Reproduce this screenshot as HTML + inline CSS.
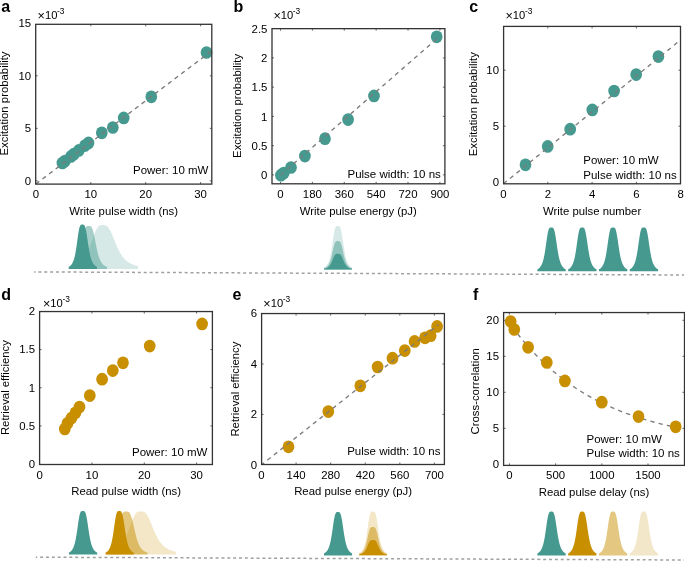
<!DOCTYPE html><html><head><meta charset="utf-8"><style>html,body{margin:0;padding:0;background:#fff;width:685px;height:561px;overflow:hidden}svg{display:block;will-change:transform}text{font-family:"Liberation Sans", sans-serif}</style></head><body>
<svg width="685" height="561" viewBox="0 0 685 561">
<path d="M90.80 184.1v-2.0M90.80 24.3v2.0M145.70 184.1v-2.0M145.70 24.3v2.0M200.60 184.1v-2.0M200.60 24.3v2.0M35.7 180.90h2.0M211.8 180.90h-2.0M35.7 128.35h2.0M211.8 128.35h-2.0M35.7 75.80h2.0M211.8 75.80h-2.0" stroke="#555" stroke-width="0.9" fill="none"/>
<text x="35.90" y="198.40" font-size="11.4" text-anchor="middle" font-weight="normal" fill="#000000">0</text>
<text x="90.80" y="198.40" font-size="11.4" text-anchor="middle" font-weight="normal" fill="#000000">10</text>
<text x="145.70" y="198.40" font-size="11.4" text-anchor="middle" font-weight="normal" fill="#000000">20</text>
<text x="200.60" y="198.40" font-size="11.4" text-anchor="middle" font-weight="normal" fill="#000000">30</text>
<text x="31.10" y="184.70" font-size="11.4" text-anchor="end" font-weight="normal" fill="#000000">0</text>
<text x="31.10" y="132.15" font-size="11.4" text-anchor="end" font-weight="normal" fill="#000000">5</text>
<text x="31.10" y="79.60" font-size="11.4" text-anchor="end" font-weight="normal" fill="#000000">10</text>
<text x="31.10" y="27.05" font-size="11.4" text-anchor="end" font-weight="normal" fill="#000000">15</text>
<text x="123.60" y="214.80" font-size="11.35" text-anchor="middle" font-weight="normal" fill="#000000">Write pulse width (ns)</text>
<text x="8.00" y="103.50" font-size="11.35" text-anchor="middle" font-weight="normal" fill="#000000" transform="rotate(-90 8.00 103.50)">Excitation probability</text>
<text x="1.30" y="11.90" font-size="16" text-anchor="start" font-weight="bold" fill="#000">a</text>
<text x="37.60" y="18.70" font-size="11.2" fill="#000000"><tspan font-size="12.6" dy="1.2">×</tspan><tspan dy="-1.2">10</tspan><tspan font-size="8.4" dy="-4.5" dx="-0.4">-3</tspan></text>
<text x="133.00" y="174.20" font-size="11.5" text-anchor="start" font-weight="normal" fill="#000000">Power: 10 mW</text>
<ellipse cx="62.40" cy="163.00" rx="5.85" ry="6.35" fill="#45998f"/>
<ellipse cx="65.00" cy="161.00" rx="5.85" ry="6.35" fill="#45998f"/>
<ellipse cx="71.00" cy="156.40" rx="5.85" ry="6.35" fill="#45998f"/>
<ellipse cx="73.80" cy="154.20" rx="5.85" ry="6.35" fill="#45998f"/>
<ellipse cx="78.80" cy="150.40" rx="5.85" ry="6.35" fill="#45998f"/>
<ellipse cx="85.00" cy="145.60" rx="5.85" ry="6.35" fill="#45998f"/>
<ellipse cx="88.50" cy="142.90" rx="5.85" ry="6.35" fill="#45998f"/>
<ellipse cx="101.80" cy="132.80" rx="5.85" ry="6.35" fill="#45998f"/>
<ellipse cx="112.80" cy="127.50" rx="5.85" ry="6.35" fill="#45998f"/>
<ellipse cx="123.70" cy="117.90" rx="5.85" ry="6.35" fill="#45998f"/>
<ellipse cx="151.30" cy="96.80" rx="5.85" ry="6.35" fill="#45998f"/>
<ellipse cx="206.50" cy="52.50" rx="5.85" ry="6.35" fill="#45998f"/>
<path d="M35.80 184.00 L211.50 51.00" stroke="#7c7c7c" stroke-width="1.35" fill="none" stroke-dasharray="4.3 3.99" stroke-dashoffset="-0.07"/>
<rect x="35.7" y="24.3" width="176.10" height="159.80" fill="none" stroke="#333333" stroke-width="1.3"/>
<path d="M280.50 183.8v-2.0M280.50 28.65v2.0M312.38 183.8v-2.0M312.38 28.65v2.0M344.26 183.8v-2.0M344.26 28.65v2.0M376.14 183.8v-2.0M376.14 28.65v2.0M408.02 183.8v-2.0M408.02 28.65v2.0M439.90 183.8v-2.0M439.90 28.65v2.0M272.0 174.90h2.0M444.9 174.90h-2.0M272.0 145.65h2.0M444.9 145.65h-2.0M272.0 116.40h2.0M444.9 116.40h-2.0M272.0 87.15h2.0M444.9 87.15h-2.0M272.0 57.90h2.0M444.9 57.90h-2.0" stroke="#555" stroke-width="0.9" fill="none"/>
<text x="280.50" y="197.90" font-size="11.4" text-anchor="middle" font-weight="normal" fill="#000000">0</text>
<text x="312.38" y="197.90" font-size="11.4" text-anchor="middle" font-weight="normal" fill="#000000">180</text>
<text x="344.26" y="197.90" font-size="11.4" text-anchor="middle" font-weight="normal" fill="#000000">360</text>
<text x="376.14" y="197.90" font-size="11.4" text-anchor="middle" font-weight="normal" fill="#000000">540</text>
<text x="408.02" y="197.90" font-size="11.4" text-anchor="middle" font-weight="normal" fill="#000000">720</text>
<text x="439.90" y="197.90" font-size="11.4" text-anchor="middle" font-weight="normal" fill="#000000">900</text>
<text x="267.40" y="179.10" font-size="11.4" text-anchor="end" font-weight="normal" fill="#000000">0</text>
<text x="267.40" y="149.85" font-size="11.4" text-anchor="end" font-weight="normal" fill="#000000">0.5</text>
<text x="267.40" y="120.60" font-size="11.4" text-anchor="end" font-weight="normal" fill="#000000">1</text>
<text x="267.40" y="91.35" font-size="11.4" text-anchor="end" font-weight="normal" fill="#000000">1.5</text>
<text x="267.40" y="62.10" font-size="11.4" text-anchor="end" font-weight="normal" fill="#000000">2</text>
<text x="267.40" y="32.85" font-size="11.4" text-anchor="end" font-weight="normal" fill="#000000">2.5</text>
<text x="358.30" y="215.00" font-size="11.35" text-anchor="middle" font-weight="normal" fill="#000000">Write pulse energy (pJ)</text>
<text x="240.70" y="105.90" font-size="11.35" text-anchor="middle" font-weight="normal" fill="#000000" transform="rotate(-90 240.70 105.90)">Excitation probability</text>
<text x="233.40" y="11.60" font-size="16" text-anchor="start" font-weight="bold" fill="#000">b</text>
<text x="273.40" y="18.50" font-size="11.2" fill="#000000"><tspan font-size="12.6" dy="1.2">×</tspan><tspan dy="-1.2">10</tspan><tspan font-size="8.4" dy="-4.5" dx="-0.4">-3</tspan></text>
<text x="347.50" y="178.00" font-size="11.5" text-anchor="start" font-weight="normal" fill="#000000">Pulse width: 10 ns</text>
<ellipse cx="280.90" cy="175.20" rx="5.85" ry="6.35" fill="#45998f"/>
<ellipse cx="283.80" cy="173.00" rx="5.85" ry="6.35" fill="#45998f"/>
<ellipse cx="291.00" cy="167.50" rx="5.85" ry="6.35" fill="#45998f"/>
<ellipse cx="304.90" cy="156.10" rx="5.85" ry="6.35" fill="#45998f"/>
<ellipse cx="325.00" cy="138.70" rx="5.85" ry="6.35" fill="#45998f"/>
<ellipse cx="348.10" cy="119.60" rx="5.85" ry="6.35" fill="#45998f"/>
<ellipse cx="374.00" cy="95.90" rx="5.85" ry="6.35" fill="#45998f"/>
<ellipse cx="436.70" cy="36.80" rx="5.85" ry="6.35" fill="#45998f"/>
<path d="M280.50 175.10 L436.70 38.90" stroke="#7c7c7c" stroke-width="1.35" fill="none" stroke-dasharray="4.3 4.13" stroke-dashoffset="-0.31"/>
<rect x="272.0" y="28.65" width="172.90" height="155.15" fill="none" stroke="#333333" stroke-width="1.3"/>
<path d="M547.80 183.8v-2.0M547.80 26.4v2.0M592.10 183.8v-2.0M592.10 26.4v2.0M636.40 183.8v-2.0M636.40 26.4v2.0M503.6 126.20h2.0M680.5 126.20h-2.0M503.6 70.20h2.0M680.5 70.20h-2.0" stroke="#555" stroke-width="0.9" fill="none"/>
<text x="503.50" y="198.00" font-size="11.4" text-anchor="middle" font-weight="normal" fill="#000000">0</text>
<text x="547.80" y="198.00" font-size="11.4" text-anchor="middle" font-weight="normal" fill="#000000">2</text>
<text x="592.10" y="198.00" font-size="11.4" text-anchor="middle" font-weight="normal" fill="#000000">4</text>
<text x="636.40" y="198.00" font-size="11.4" text-anchor="middle" font-weight="normal" fill="#000000">6</text>
<text x="680.70" y="198.00" font-size="11.4" text-anchor="middle" font-weight="normal" fill="#000000">8</text>
<text x="499.00" y="186.00" font-size="11.4" text-anchor="end" font-weight="normal" fill="#000000">0</text>
<text x="499.00" y="130.00" font-size="11.4" text-anchor="end" font-weight="normal" fill="#000000">5</text>
<text x="499.00" y="74.00" font-size="11.4" text-anchor="end" font-weight="normal" fill="#000000">10</text>
<text x="592.10" y="215.00" font-size="11.35" text-anchor="middle" font-weight="normal" fill="#000000">Write pulse number</text>
<text x="477.30" y="104.20" font-size="11.35" text-anchor="middle" font-weight="normal" fill="#000000" transform="rotate(-90 477.30 104.20)">Excitation probability</text>
<text x="469.20" y="11.90" font-size="16" text-anchor="start" font-weight="bold" fill="#000">c</text>
<text x="505.50" y="18.70" font-size="11.2" fill="#000000"><tspan font-size="12.6" dy="1.2">×</tspan><tspan dy="-1.2">10</tspan><tspan font-size="8.4" dy="-4.5" dx="-0.4">-3</tspan></text>
<text x="583.30" y="164.30" font-size="11.5" text-anchor="start" font-weight="normal" fill="#000000">Power: 10 mW</text>
<text x="583.30" y="178.70" font-size="11.5" text-anchor="start" font-weight="normal" fill="#000000">Pulse width: 10 ns</text>
<ellipse cx="525.50" cy="164.80" rx="5.85" ry="6.35" fill="#45998f"/>
<ellipse cx="547.70" cy="146.40" rx="5.85" ry="6.35" fill="#45998f"/>
<ellipse cx="570.20" cy="129.20" rx="5.85" ry="6.35" fill="#45998f"/>
<ellipse cx="592.30" cy="109.90" rx="5.85" ry="6.35" fill="#45998f"/>
<ellipse cx="614.10" cy="91.00" rx="5.85" ry="6.35" fill="#45998f"/>
<ellipse cx="636.20" cy="74.60" rx="5.85" ry="6.35" fill="#45998f"/>
<ellipse cx="658.40" cy="56.60" rx="5.85" ry="6.35" fill="#45998f"/>
<path d="M503.50 183.70 L680.30 40.20" stroke="#7c7c7c" stroke-width="1.35" fill="none" stroke-dasharray="4.3 4.15" stroke-dashoffset="0.10"/>
<rect x="503.6" y="26.4" width="176.90" height="157.40" fill="none" stroke="#333333" stroke-width="1.3"/>
<path d="M91.93 464.5v-2.0M91.93 311.55v2.0M144.27 464.5v-2.0M144.27 311.55v2.0M196.60 464.5v-2.0M196.60 311.55v2.0M39.6 425.93h2.0M212.4 425.93h-2.0M39.6 387.75h2.0M212.4 387.75h-2.0M39.6 349.57h2.0M212.4 349.57h-2.0" stroke="#555" stroke-width="0.9" fill="none"/>
<text x="39.60" y="478.60" font-size="11.4" text-anchor="middle" font-weight="normal" fill="#000000">0</text>
<text x="91.93" y="478.60" font-size="11.4" text-anchor="middle" font-weight="normal" fill="#000000">10</text>
<text x="144.27" y="478.60" font-size="11.4" text-anchor="middle" font-weight="normal" fill="#000000">20</text>
<text x="196.60" y="478.60" font-size="11.4" text-anchor="middle" font-weight="normal" fill="#000000">30</text>
<text x="35.00" y="467.90" font-size="11.4" text-anchor="end" font-weight="normal" fill="#000000">0</text>
<text x="35.00" y="429.73" font-size="11.4" text-anchor="end" font-weight="normal" fill="#000000">0.5</text>
<text x="35.00" y="391.55" font-size="11.4" text-anchor="end" font-weight="normal" fill="#000000">1</text>
<text x="35.00" y="353.38" font-size="11.4" text-anchor="end" font-weight="normal" fill="#000000">1.5</text>
<text x="35.00" y="315.20" font-size="11.4" text-anchor="end" font-weight="normal" fill="#000000">2</text>
<text x="126.10" y="495.00" font-size="11.35" text-anchor="middle" font-weight="normal" fill="#000000">Read pulse width (ns)</text>
<text x="9.00" y="387.60" font-size="11.35" text-anchor="middle" font-weight="normal" fill="#000000" transform="rotate(-90 9.00 387.60)">Retrieval efficiency</text>
<text x="1.30" y="300.10" font-size="16" text-anchor="start" font-weight="bold" fill="#000">d</text>
<text x="43.00" y="306.70" font-size="11.2" fill="#000000"><tspan font-size="12.6" dy="1.2">×</tspan><tspan dy="-1.2">10</tspan><tspan font-size="8.4" dy="-4.5" dx="-0.4">-3</tspan></text>
<text x="132.00" y="455.80" font-size="11.5" text-anchor="start" font-weight="normal" fill="#000000">Power: 10 mW</text>
<ellipse cx="64.80" cy="429.00" rx="5.85" ry="6.35" fill="#c88f00"/>
<ellipse cx="67.50" cy="423.30" rx="5.85" ry="6.35" fill="#c88f00"/>
<ellipse cx="71.50" cy="418.10" rx="5.85" ry="6.35" fill="#c88f00"/>
<ellipse cx="75.50" cy="412.80" rx="5.85" ry="6.35" fill="#c88f00"/>
<ellipse cx="79.50" cy="407.00" rx="5.85" ry="6.35" fill="#c88f00"/>
<ellipse cx="89.80" cy="395.60" rx="5.85" ry="6.35" fill="#c88f00"/>
<ellipse cx="102.10" cy="379.20" rx="5.85" ry="6.35" fill="#c88f00"/>
<ellipse cx="112.80" cy="370.60" rx="5.85" ry="6.35" fill="#c88f00"/>
<ellipse cx="123.00" cy="362.80" rx="5.85" ry="6.35" fill="#c88f00"/>
<ellipse cx="149.70" cy="346.10" rx="5.85" ry="6.35" fill="#c88f00"/>
<ellipse cx="202.10" cy="323.90" rx="5.85" ry="6.35" fill="#c88f00"/>
<rect x="39.6" y="311.55" width="172.80" height="152.95" fill="none" stroke="#333333" stroke-width="1.3"/>
<path d="M296.08 464.5v-2.0M296.08 313.55v2.0M330.66 464.5v-2.0M330.66 313.55v2.0M365.24 464.5v-2.0M365.24 313.55v2.0M399.82 464.5v-2.0M399.82 313.55v2.0M434.40 464.5v-2.0M434.40 313.55v2.0M261.6 414.40h2.0M444.4 414.40h-2.0M261.6 364.00h2.0M444.4 364.00h-2.0" stroke="#555" stroke-width="0.9" fill="none"/>
<text x="261.50" y="478.60" font-size="11.4" text-anchor="middle" font-weight="normal" fill="#000000">0</text>
<text x="296.08" y="478.60" font-size="11.4" text-anchor="middle" font-weight="normal" fill="#000000">140</text>
<text x="330.66" y="478.60" font-size="11.4" text-anchor="middle" font-weight="normal" fill="#000000">280</text>
<text x="365.24" y="478.60" font-size="11.4" text-anchor="middle" font-weight="normal" fill="#000000">420</text>
<text x="399.82" y="478.60" font-size="11.4" text-anchor="middle" font-weight="normal" fill="#000000">560</text>
<text x="434.40" y="478.60" font-size="11.4" text-anchor="middle" font-weight="normal" fill="#000000">700</text>
<text x="257.00" y="468.60" font-size="11.4" text-anchor="end" font-weight="normal" fill="#000000">0</text>
<text x="257.00" y="418.20" font-size="11.4" text-anchor="end" font-weight="normal" fill="#000000">2</text>
<text x="257.00" y="367.80" font-size="11.4" text-anchor="end" font-weight="normal" fill="#000000">4</text>
<text x="257.00" y="317.40" font-size="11.4" text-anchor="end" font-weight="normal" fill="#000000">6</text>
<text x="353.10" y="494.70" font-size="11.35" text-anchor="middle" font-weight="normal" fill="#000000">Read pulse energy (pJ)</text>
<text x="238.80" y="389.10" font-size="11.35" text-anchor="middle" font-weight="normal" fill="#000000" transform="rotate(-90 238.80 389.10)">Retrieval efficiency</text>
<text x="232.60" y="300.10" font-size="16" text-anchor="start" font-weight="bold" fill="#000">e</text>
<text x="263.30" y="306.70" font-size="11.2" fill="#000000"><tspan font-size="12.6" dy="1.2">×</tspan><tspan dy="-1.2">10</tspan><tspan font-size="8.4" dy="-4.5" dx="-0.4">-3</tspan></text>
<text x="347.20" y="455.30" font-size="11.5" text-anchor="start" font-weight="normal" fill="#000000">Pulse width: 10 ns</text>
<ellipse cx="288.50" cy="446.80" rx="5.85" ry="6.35" fill="#c88f00"/>
<ellipse cx="328.30" cy="411.60" rx="5.85" ry="6.35" fill="#c88f00"/>
<ellipse cx="360.30" cy="385.80" rx="5.85" ry="6.35" fill="#c88f00"/>
<ellipse cx="377.60" cy="367.00" rx="5.85" ry="6.35" fill="#c88f00"/>
<ellipse cx="392.50" cy="358.20" rx="5.85" ry="6.35" fill="#c88f00"/>
<ellipse cx="404.80" cy="350.60" rx="5.85" ry="6.35" fill="#c88f00"/>
<ellipse cx="414.60" cy="341.40" rx="5.85" ry="6.35" fill="#c88f00"/>
<ellipse cx="425.00" cy="337.80" rx="5.85" ry="6.35" fill="#c88f00"/>
<ellipse cx="430.70" cy="335.70" rx="5.85" ry="6.35" fill="#c88f00"/>
<ellipse cx="437.10" cy="326.40" rx="5.85" ry="6.35" fill="#c88f00"/>
<path d="M261.80 464.60 L438.50 324.60" stroke="#7c7c7c" stroke-width="1.35" fill="none" stroke-dasharray="4.3 4.03" stroke-dashoffset="1.32"/>
<rect x="261.6" y="313.55" width="182.80" height="150.95" fill="none" stroke="#333333" stroke-width="1.3"/>
<path d="M509.40 465.4v-2.0M509.40 312.55v2.0M555.60 465.4v-2.0M555.60 312.55v2.0M601.80 465.4v-2.0M601.80 312.55v2.0M648.00 465.4v-2.0M648.00 312.55v2.0M503.6 428.30h2.0M684.5 428.30h-2.0M503.6 392.30h2.0M684.5 392.30h-2.0M503.6 356.30h2.0M684.5 356.30h-2.0M503.6 320.30h2.0M684.5 320.30h-2.0" stroke="#555" stroke-width="0.9" fill="none"/>
<text x="509.40" y="479.20" font-size="11.4" text-anchor="middle" font-weight="normal" fill="#000000">0</text>
<text x="555.60" y="479.20" font-size="11.4" text-anchor="middle" font-weight="normal" fill="#000000">500</text>
<text x="601.80" y="479.20" font-size="11.4" text-anchor="middle" font-weight="normal" fill="#000000">1000</text>
<text x="648.00" y="479.20" font-size="11.4" text-anchor="middle" font-weight="normal" fill="#000000">1500</text>
<text x="499.00" y="468.10" font-size="11.4" text-anchor="end" font-weight="normal" fill="#000000">0</text>
<text x="499.00" y="432.10" font-size="11.4" text-anchor="end" font-weight="normal" fill="#000000">5</text>
<text x="499.00" y="396.10" font-size="11.4" text-anchor="end" font-weight="normal" fill="#000000">10</text>
<text x="499.00" y="360.10" font-size="11.4" text-anchor="end" font-weight="normal" fill="#000000">15</text>
<text x="499.00" y="324.10" font-size="11.4" text-anchor="end" font-weight="normal" fill="#000000">20</text>
<text x="594.00" y="495.50" font-size="11.35" text-anchor="middle" font-weight="normal" fill="#000000">Read pulse delay (ns)</text>
<text x="478.90" y="391.30" font-size="11.35" text-anchor="middle" font-weight="normal" fill="#000000" transform="rotate(-90 478.90 391.30)">Cross-correlation</text>
<text x="473.00" y="300.10" font-size="16" text-anchor="start" font-weight="bold" fill="#000">f</text>
<text x="586.50" y="443.00" font-size="11.5" text-anchor="start" font-weight="normal" fill="#000000">Power: 10 mW</text>
<text x="586.50" y="457.10" font-size="11.5" text-anchor="start" font-weight="normal" fill="#000000">Pulse width: 10 ns</text>
<path d="M509.40 322.86 L510.79 324.79 L512.17 326.68 L513.56 328.55 L514.94 330.39 L516.33 332.20 L517.72 333.99 L519.10 335.74 L520.49 337.47 L521.87 339.17 L523.26 340.84 L524.65 342.49 L526.03 344.11 L527.42 345.70 L528.80 347.27 L530.19 348.82 L531.58 350.34 L532.96 351.84 L534.35 353.31 L535.73 354.76 L537.12 356.19 L538.51 357.59 L539.89 358.98 L541.28 360.34 L542.66 361.68 L544.05 363.00 L545.44 364.29 L546.82 365.57 L548.21 366.83 L549.59 368.07 L550.98 369.29 L552.37 370.49 L553.75 371.67 L555.14 372.83 L556.52 373.97 L557.91 375.10 L559.30 376.21 L560.68 377.30 L562.07 378.37 L563.45 379.43 L564.84 380.47 L566.23 381.49 L567.61 382.50 L569.00 383.49 L570.38 384.47 L571.77 385.43 L573.16 386.37 L574.54 387.31 L575.93 388.22 L577.31 389.12 L578.70 390.01 L580.09 390.89 L581.47 391.75 L582.86 392.59 L584.24 393.43 L585.63 394.25 L587.02 395.05 L588.40 395.85 L589.79 396.63 L591.17 397.40 L592.56 398.16 L593.95 398.90 L595.33 399.64 L596.72 400.36 L598.10 401.07 L599.49 401.77 L600.88 402.46 L602.26 403.14 L603.65 403.81 L605.03 404.46 L606.42 405.11 L607.81 405.75 L609.19 406.37 L610.58 406.99 L611.96 407.60 L613.35 408.19 L614.74 408.78 L616.12 409.36 L617.51 409.93 L618.89 410.49 L620.28 411.04 L621.67 411.59 L623.05 412.12 L624.44 412.65 L625.82 413.17 L627.21 413.68 L628.60 414.18 L629.98 414.67 L631.37 415.16 L632.75 415.64 L634.14 416.11 L635.53 416.57 L636.91 417.03 L638.30 417.48 L639.68 417.92 L641.07 418.35 L642.46 418.78 L643.84 419.20 L645.23 419.62 L646.61 420.03 L648.00 420.43 L649.39 420.83 L650.77 421.22 L652.16 421.60 L653.54 421.98 L654.93 422.35 L656.32 422.71 L657.70 423.07 L659.09 423.43 L660.47 423.78 L661.86 424.12 L663.25 424.46 L664.63 424.79 L666.02 425.12 L667.40 425.44 L668.79 425.76 L670.18 426.07 L671.56 426.38 L672.95 426.68 L674.33 426.98 L675.72 427.27" stroke="#7c7c7c" stroke-width="1.35" fill="none" stroke-dasharray="4.3 4.20" stroke-dashoffset="-5.50"/>
<ellipse cx="510.70" cy="321.50" rx="5.85" ry="6.35" fill="#c88f00"/>
<ellipse cx="514.30" cy="329.50" rx="5.85" ry="6.35" fill="#c88f00"/>
<ellipse cx="528.10" cy="347.30" rx="5.85" ry="6.35" fill="#c88f00"/>
<ellipse cx="546.80" cy="362.40" rx="5.85" ry="6.35" fill="#c88f00"/>
<ellipse cx="564.90" cy="380.90" rx="5.85" ry="6.35" fill="#c88f00"/>
<ellipse cx="601.80" cy="402.20" rx="5.85" ry="6.35" fill="#c88f00"/>
<ellipse cx="638.50" cy="416.60" rx="5.85" ry="6.35" fill="#c88f00"/>
<ellipse cx="675.70" cy="426.80" rx="5.85" ry="6.35" fill="#c88f00"/>
<rect x="503.6" y="312.55" width="180.90" height="152.85" fill="none" stroke="#333333" stroke-width="1.3"/>
<path d="M70.70 268.90 L70.70 266.08 L71.50 265.87 L72.30 265.64 L73.10 265.39 L73.90 265.12 L74.70 264.81 L75.50 264.48 L76.30 264.11 L77.10 263.70 L77.90 263.25 L78.70 262.75 L79.50 262.19 L80.30 261.57 L81.10 260.88 L81.90 260.11 L82.70 259.26 L83.50 258.30 L84.30 257.25 L85.10 256.07 L85.90 254.77 L86.70 253.33 L87.50 251.76 L88.30 250.04 L89.10 248.18 L89.90 246.19 L90.70 244.09 L91.50 241.90 L92.30 239.66 L93.10 237.43 L93.90 235.25 L94.70 233.19 L95.50 231.31 L96.30 229.66 L97.10 228.26 L97.90 227.14 L98.70 226.31 L99.50 225.73 L100.30 225.37 L101.10 225.18 L101.90 225.11 L102.70 225.10 L103.58 225.11 L104.47 225.18 L105.35 225.37 L106.23 225.73 L107.11 226.31 L108.00 227.14 L108.88 228.26 L109.76 229.66 L110.64 231.31 L111.53 233.19 L112.41 235.25 L113.29 237.43 L114.17 239.66 L115.06 241.90 L115.94 244.09 L116.82 246.19 L117.70 248.18 L118.59 250.04 L119.47 251.76 L120.35 253.33 L121.23 254.77 L122.12 256.07 L123.00 257.25 L123.88 258.30 L124.76 259.26 L125.65 260.11 L126.53 260.88 L127.41 261.57 L128.29 262.19 L129.18 262.75 L130.06 263.25 L130.94 263.70 L131.82 264.11 L132.70 264.48 L133.59 264.81 L134.47 265.12 L135.35 265.39 L136.24 265.64 L137.12 265.87 L138.00 266.08 L138.00 268.90 Z" fill="#45998f" fill-opacity="0.215"/>
<path d="M71.70 268.90 L71.70 266.94 L72.12 266.76 L72.54 266.56 L72.97 266.34 L73.39 266.09 L73.81 265.81 L74.23 265.50 L74.66 265.15 L75.08 264.75 L75.50 264.31 L75.92 263.80 L76.35 263.22 L76.77 262.57 L77.19 261.83 L77.61 260.99 L78.04 260.04 L78.46 258.96 L78.88 257.75 L79.30 256.38 L79.73 254.84 L80.15 253.13 L80.57 251.25 L80.99 249.20 L81.42 247.00 L81.84 244.67 L82.26 242.27 L82.69 239.85 L83.11 237.47 L83.53 235.22 L83.95 233.15 L84.38 231.33 L84.80 229.80 L85.22 228.56 L85.64 227.62 L86.06 226.95 L86.49 226.50 L86.91 226.22 L87.33 226.08 L87.75 226.02 L88.18 226.00 L88.60 226.00 L89.06 226.00 L89.52 226.02 L89.98 226.08 L90.44 226.22 L90.90 226.50 L91.36 226.95 L91.82 227.62 L92.28 228.56 L92.74 229.80 L93.20 231.33 L93.66 233.15 L94.12 235.22 L94.58 237.47 L95.04 239.85 L95.50 242.27 L95.96 244.67 L96.42 247.00 L96.88 249.20 L97.34 251.25 L97.80 253.13 L98.26 254.84 L98.72 256.38 L99.18 257.75 L99.64 258.96 L100.10 260.04 L100.56 260.99 L101.02 261.83 L101.48 262.57 L101.94 263.22 L102.40 263.80 L102.86 264.31 L103.32 264.75 L103.78 265.15 L104.24 265.50 L104.70 265.81 L105.16 266.09 L105.62 266.34 L106.08 266.56 L106.54 266.76 L107.00 266.94 L107.00 268.90 Z" fill="#45998f" fill-opacity="0.47"/>
<path d="M68.70 268.90 L68.70 266.87 L69.04 266.69 L69.38 266.49 L69.72 266.26 L70.06 266.00 L70.40 265.71 L70.74 265.39 L71.08 265.03 L71.42 264.62 L71.76 264.16 L72.10 263.63 L72.44 263.04 L72.78 262.37 L73.12 261.60 L73.46 260.74 L73.80 259.75 L74.14 258.64 L74.48 257.38 L74.82 255.97 L75.16 254.38 L75.50 252.62 L75.84 250.68 L76.18 248.56 L76.52 246.28 L76.86 243.88 L77.20 241.40 L77.54 238.90 L77.88 236.45 L78.22 234.12 L78.56 231.98 L78.90 230.11 L79.24 228.52 L79.58 227.25 L79.92 226.28 L80.26 225.58 L80.60 225.11 L80.94 224.83 L81.28 224.68 L81.62 224.62 L81.96 224.60 L82.30 224.60 L82.66 224.60 L83.03 224.62 L83.39 224.68 L83.76 224.83 L84.12 225.11 L84.49 225.58 L84.86 226.28 L85.22 227.25 L85.58 228.52 L85.95 230.11 L86.31 231.98 L86.68 234.12 L87.05 236.45 L87.41 238.90 L87.77 241.40 L88.14 243.88 L88.50 246.28 L88.87 248.56 L89.23 250.68 L89.60 252.62 L89.97 254.38 L90.33 255.97 L90.69 257.38 L91.06 258.64 L91.42 259.75 L91.79 260.74 L92.16 261.60 L92.52 262.37 L92.88 263.04 L93.25 263.63 L93.61 264.16 L93.98 264.62 L94.34 265.03 L94.71 265.39 L95.08 265.71 L95.44 266.00 L95.80 266.26 L96.17 266.49 L96.53 266.69 L96.90 266.87 L96.90 268.90 Z" fill="#45998f" fill-opacity="1.0"/>
<path d="M324.00 269.50 L324.00 267.51 L324.35 267.33 L324.69 267.13 L325.04 266.90 L325.38 266.65 L325.73 266.37 L326.07 266.05 L326.42 265.70 L326.76 265.30 L327.11 264.84 L327.45 264.33 L327.80 263.74 L328.14 263.08 L328.49 262.33 L328.83 261.48 L329.18 260.52 L329.52 259.43 L329.87 258.19 L330.21 256.80 L330.56 255.25 L330.90 253.51 L331.25 251.61 L331.59 249.53 L331.94 247.29 L332.28 244.93 L332.62 242.50 L332.97 240.04 L333.31 237.63 L333.66 235.35 L334.00 233.25 L334.35 231.41 L334.69 229.85 L335.04 228.60 L335.38 227.65 L335.73 226.96 L336.07 226.50 L336.42 226.23 L336.76 226.08 L337.11 226.02 L337.46 226.00 L337.80 226.00 L338.16 226.00 L338.51 226.02 L338.87 226.08 L339.22 226.23 L339.57 226.50 L339.93 226.96 L340.29 227.65 L340.64 228.60 L341.00 229.85 L341.35 231.41 L341.70 233.25 L342.06 235.35 L342.42 237.63 L342.77 240.04 L343.12 242.50 L343.48 244.93 L343.84 247.29 L344.19 249.53 L344.55 251.61 L344.90 253.51 L345.25 255.25 L345.61 256.80 L345.97 258.19 L346.32 259.43 L346.68 260.52 L347.03 261.48 L347.38 262.33 L347.74 263.08 L348.10 263.74 L348.45 264.33 L348.81 264.84 L349.16 265.30 L349.51 265.70 L349.87 266.05 L350.23 266.37 L350.58 266.65 L350.94 266.90 L351.29 267.13 L351.64 267.33 L352.00 267.51 L352.00 269.50 Z" fill="#45998f" fill-opacity="0.215"/>
<path d="M324.00 269.50 L324.00 268.20 L324.35 268.08 L324.69 267.95 L325.04 267.80 L325.38 267.64 L325.73 267.45 L326.07 267.24 L326.42 267.01 L326.76 266.75 L327.11 266.45 L327.45 266.11 L327.80 265.73 L328.14 265.30 L328.49 264.80 L328.83 264.25 L329.18 263.62 L329.52 262.90 L329.87 262.09 L330.21 261.18 L330.56 260.16 L330.90 259.03 L331.25 257.78 L331.59 256.41 L331.94 254.95 L332.28 253.41 L332.62 251.81 L332.97 250.20 L333.31 248.62 L333.66 247.12 L334.00 245.75 L334.35 244.54 L334.69 243.52 L335.04 242.70 L335.38 242.08 L335.73 241.63 L336.07 241.33 L336.42 241.15 L336.76 241.05 L337.11 241.01 L337.46 241.00 L337.80 241.00 L338.16 241.00 L338.51 241.01 L338.87 241.05 L339.22 241.15 L339.57 241.33 L339.93 241.63 L340.29 242.08 L340.64 242.70 L341.00 243.52 L341.35 244.54 L341.70 245.75 L342.06 247.12 L342.42 248.62 L342.77 250.20 L343.12 251.81 L343.48 253.41 L343.84 254.95 L344.19 256.41 L344.55 257.78 L344.90 259.03 L345.25 260.16 L345.61 261.18 L345.97 262.09 L346.32 262.90 L346.68 263.62 L347.03 264.25 L347.38 264.80 L347.74 265.30 L348.10 265.73 L348.45 266.11 L348.81 266.45 L349.16 266.75 L349.51 267.01 L349.87 267.24 L350.23 267.45 L350.58 267.64 L350.94 267.80 L351.29 267.95 L351.64 268.08 L352.00 268.20 L352.00 269.50 Z" fill="#45998f" fill-opacity="0.47"/>
<path d="M324.00 269.50 L324.00 268.78 L324.35 268.72 L324.69 268.64 L325.04 268.56 L325.38 268.47 L325.73 268.37 L326.07 268.26 L326.42 268.13 L326.76 267.98 L327.11 267.82 L327.45 267.63 L327.80 267.42 L328.14 267.18 L328.49 266.91 L328.83 266.61 L329.18 266.26 L329.52 265.86 L329.87 265.42 L330.21 264.92 L330.56 264.36 L330.90 263.73 L331.25 263.04 L331.59 262.29 L331.94 261.48 L332.28 260.63 L332.62 259.75 L332.97 258.87 L333.31 258.00 L333.66 257.17 L334.00 256.42 L334.35 255.75 L334.69 255.19 L335.04 254.74 L335.38 254.39 L335.73 254.15 L336.07 253.98 L336.42 253.88 L336.76 253.83 L337.11 253.81 L337.46 253.80 L337.80 253.80 L338.16 253.80 L338.51 253.81 L338.87 253.83 L339.22 253.88 L339.57 253.98 L339.93 254.15 L340.29 254.39 L340.64 254.74 L341.00 255.19 L341.35 255.75 L341.70 256.42 L342.06 257.17 L342.42 258.00 L342.77 258.87 L343.12 259.75 L343.48 260.63 L343.84 261.48 L344.19 262.29 L344.55 263.04 L344.90 263.73 L345.25 264.36 L345.61 264.92 L345.97 265.42 L346.32 265.86 L346.68 266.26 L347.03 266.61 L347.38 266.91 L347.74 267.18 L348.10 267.42 L348.45 267.63 L348.81 267.82 L349.16 267.98 L349.51 268.13 L349.87 268.26 L350.23 268.37 L350.58 268.47 L350.94 268.56 L351.29 268.64 L351.64 268.72 L352.00 268.78 L352.00 269.50 Z" fill="#45998f" fill-opacity="1.0"/>
<path d="M537.40 271.30 L537.40 269.29 L537.75 269.11 L538.09 268.91 L538.44 268.68 L538.79 268.43 L539.14 268.14 L539.48 267.82 L539.83 267.46 L540.18 267.06 L540.53 266.60 L540.88 266.08 L541.22 265.49 L541.57 264.82 L541.92 264.07 L542.26 263.21 L542.61 262.24 L542.96 261.13 L543.31 259.89 L543.65 258.48 L544.00 256.91 L544.35 255.17 L544.70 253.24 L545.04 251.14 L545.39 248.89 L545.74 246.51 L546.09 244.05 L546.43 241.57 L546.78 239.14 L547.13 236.83 L547.48 234.72 L547.82 232.86 L548.17 231.29 L548.52 230.02 L548.87 229.06 L549.21 228.37 L549.56 227.91 L549.91 227.63 L550.26 227.48 L550.60 227.42 L550.95 227.40 L551.30 227.40 L551.66 227.40 L552.02 227.42 L552.38 227.48 L552.74 227.63 L553.10 227.91 L553.46 228.37 L553.82 229.06 L554.18 230.02 L554.54 231.29 L554.90 232.86 L555.26 234.72 L555.62 236.83 L555.98 239.14 L556.34 241.57 L556.70 244.05 L557.06 246.51 L557.42 248.89 L557.78 251.14 L558.14 253.24 L558.50 255.17 L558.86 256.91 L559.22 258.48 L559.58 259.89 L559.94 261.13 L560.30 262.24 L560.66 263.21 L561.02 264.07 L561.38 264.82 L561.74 265.49 L562.10 266.08 L562.46 266.60 L562.82 267.06 L563.18 267.46 L563.54 267.82 L563.90 268.14 L564.26 268.43 L564.62 268.68 L564.98 268.91 L565.34 269.11 L565.70 269.29 L565.70 271.30 Z" fill="#45998f" fill-opacity="1.0"/>
<path d="M568.20 271.30 L568.20 269.29 L568.55 269.11 L568.89 268.91 L569.24 268.68 L569.59 268.43 L569.94 268.14 L570.28 267.82 L570.63 267.46 L570.98 267.06 L571.33 266.60 L571.67 266.08 L572.02 265.49 L572.37 264.82 L572.72 264.07 L573.06 263.21 L573.41 262.24 L573.76 261.13 L574.11 259.89 L574.45 258.48 L574.80 256.91 L575.15 255.17 L575.50 253.24 L575.84 251.14 L576.19 248.89 L576.54 246.51 L576.89 244.05 L577.23 241.57 L577.58 239.14 L577.93 236.83 L578.28 234.72 L578.62 232.86 L578.97 231.29 L579.32 230.02 L579.67 229.06 L580.01 228.37 L580.36 227.91 L580.71 227.63 L581.06 227.48 L581.40 227.42 L581.75 227.40 L582.10 227.40 L582.46 227.40 L582.82 227.42 L583.18 227.48 L583.54 227.63 L583.90 227.91 L584.26 228.37 L584.62 229.06 L584.98 230.02 L585.34 231.29 L585.70 232.86 L586.06 234.72 L586.42 236.83 L586.78 239.14 L587.14 241.57 L587.50 244.05 L587.86 246.51 L588.22 248.89 L588.58 251.14 L588.94 253.24 L589.30 255.17 L589.66 256.91 L590.02 258.48 L590.38 259.89 L590.74 261.13 L591.10 262.24 L591.46 263.21 L591.82 264.07 L592.18 264.82 L592.54 265.49 L592.90 266.08 L593.26 266.60 L593.62 267.06 L593.98 267.46 L594.34 267.82 L594.70 268.14 L595.06 268.43 L595.42 268.68 L595.78 268.91 L596.14 269.11 L596.50 269.29 L596.50 271.30 Z" fill="#45998f" fill-opacity="1.0"/>
<path d="M599.00 271.30 L599.00 269.29 L599.35 269.11 L599.69 268.91 L600.04 268.68 L600.39 268.43 L600.74 268.14 L601.08 267.82 L601.43 267.46 L601.78 267.06 L602.13 266.60 L602.48 266.08 L602.82 265.49 L603.17 264.82 L603.52 264.07 L603.87 263.21 L604.21 262.24 L604.56 261.13 L604.91 259.89 L605.25 258.48 L605.60 256.91 L605.95 255.17 L606.30 253.24 L606.64 251.14 L606.99 248.89 L607.34 246.51 L607.69 244.05 L608.03 241.57 L608.38 239.14 L608.73 236.83 L609.08 234.72 L609.42 232.86 L609.77 231.29 L610.12 230.02 L610.47 229.06 L610.81 228.37 L611.16 227.91 L611.51 227.63 L611.86 227.48 L612.20 227.42 L612.55 227.40 L612.90 227.40 L613.26 227.40 L613.62 227.42 L613.98 227.48 L614.34 227.63 L614.70 227.91 L615.06 228.37 L615.42 229.06 L615.78 230.02 L616.14 231.29 L616.50 232.86 L616.86 234.72 L617.22 236.83 L617.58 239.14 L617.94 241.57 L618.30 244.05 L618.66 246.51 L619.02 248.89 L619.38 251.14 L619.74 253.24 L620.10 255.17 L620.46 256.91 L620.82 258.48 L621.18 259.89 L621.54 261.13 L621.90 262.24 L622.26 263.21 L622.62 264.07 L622.98 264.82 L623.34 265.49 L623.70 266.08 L624.06 266.60 L624.42 267.06 L624.78 267.46 L625.14 267.82 L625.50 268.14 L625.86 268.43 L626.22 268.68 L626.58 268.91 L626.94 269.11 L627.30 269.29 L627.30 271.30 Z" fill="#45998f" fill-opacity="1.0"/>
<path d="M629.80 271.30 L629.80 269.29 L630.15 269.11 L630.49 268.91 L630.84 268.68 L631.19 268.43 L631.54 268.14 L631.88 267.82 L632.23 267.46 L632.58 267.06 L632.93 266.60 L633.27 266.08 L633.62 265.49 L633.97 264.82 L634.32 264.07 L634.66 263.21 L635.01 262.24 L635.36 261.13 L635.71 259.89 L636.05 258.48 L636.40 256.91 L636.75 255.17 L637.10 253.24 L637.44 251.14 L637.79 248.89 L638.14 246.51 L638.49 244.05 L638.83 241.57 L639.18 239.14 L639.53 236.83 L639.88 234.72 L640.22 232.86 L640.57 231.29 L640.92 230.02 L641.27 229.06 L641.61 228.37 L641.96 227.91 L642.31 227.63 L642.66 227.48 L643.00 227.42 L643.35 227.40 L643.70 227.40 L644.06 227.40 L644.42 227.42 L644.78 227.48 L645.14 227.63 L645.50 227.91 L645.86 228.37 L646.22 229.06 L646.58 230.02 L646.94 231.29 L647.30 232.86 L647.66 234.72 L648.02 236.83 L648.38 239.14 L648.74 241.57 L649.10 244.05 L649.46 246.51 L649.82 248.89 L650.18 251.14 L650.54 253.24 L650.90 255.17 L651.26 256.91 L651.62 258.48 L651.98 259.89 L652.34 261.13 L652.70 262.24 L653.06 263.21 L653.42 264.07 L653.78 264.82 L654.14 265.49 L654.50 266.08 L654.86 266.60 L655.22 267.06 L655.58 267.46 L655.94 267.82 L656.30 268.14 L656.66 268.43 L657.02 268.68 L657.38 268.91 L657.74 269.11 L658.10 269.29 L658.10 271.30 Z" fill="#45998f" fill-opacity="1.0"/>
<path d="M34 271.9 L684 275.0" stroke="#a0a0a0" stroke-width="1.5" stroke-dasharray="3 2.85" stroke-dashoffset="1.45" fill="none"/>
<path d="M68.90 554.60 L68.90 552.60 L69.25 552.42 L69.59 552.22 L69.94 551.99 L70.29 551.74 L70.64 551.46 L70.98 551.14 L71.33 550.78 L71.68 550.38 L72.03 549.92 L72.38 549.40 L72.72 548.82 L73.07 548.15 L73.42 547.40 L73.77 546.55 L74.11 545.58 L74.46 544.48 L74.81 543.24 L75.16 541.84 L75.50 540.28 L75.85 538.54 L76.20 536.62 L76.55 534.53 L76.89 532.29 L77.24 529.92 L77.59 527.47 L77.94 525.01 L78.28 522.59 L78.63 520.29 L78.98 518.18 L79.33 516.33 L79.67 514.77 L80.02 513.51 L80.37 512.55 L80.72 511.86 L81.06 511.41 L81.41 511.13 L81.76 510.98 L82.11 510.92 L82.45 510.90 L82.80 510.90 L83.16 510.90 L83.52 510.92 L83.88 510.98 L84.24 511.13 L84.60 511.41 L84.96 511.86 L85.32 512.55 L85.68 513.51 L86.04 514.77 L86.40 516.33 L86.76 518.18 L87.12 520.29 L87.48 522.59 L87.84 525.01 L88.20 527.47 L88.56 529.92 L88.92 532.29 L89.28 534.53 L89.64 536.62 L90.00 538.54 L90.36 540.28 L90.72 541.84 L91.08 543.24 L91.44 544.48 L91.80 545.58 L92.16 546.55 L92.52 547.40 L92.88 548.15 L93.24 548.82 L93.60 549.40 L93.96 549.92 L94.32 550.38 L94.68 550.78 L95.04 551.14 L95.40 551.46 L95.76 551.74 L96.12 551.99 L96.48 552.22 L96.84 552.42 L97.20 552.60 L97.20 554.60 Z" fill="#45998f" fill-opacity="1.0"/>
<path d="M108.60 554.60 L108.60 551.81 L109.40 551.61 L110.20 551.39 L111.00 551.14 L111.80 550.87 L112.60 550.57 L113.40 550.24 L114.20 549.88 L115.00 549.47 L115.80 549.03 L116.60 548.53 L117.40 547.98 L118.20 547.37 L119.00 546.69 L119.80 545.93 L120.60 545.09 L121.40 544.15 L122.20 543.11 L123.00 541.95 L123.80 540.66 L124.60 539.25 L125.40 537.69 L126.20 536.00 L127.00 534.16 L127.80 532.20 L128.60 530.13 L129.40 527.97 L130.20 525.76 L131.00 523.56 L131.80 521.41 L132.60 519.38 L133.40 517.53 L134.20 515.89 L135.00 514.52 L135.80 513.42 L136.60 512.59 L137.40 512.02 L138.20 511.66 L139.00 511.48 L139.80 511.41 L140.60 511.40 L141.48 511.41 L142.36 511.48 L143.25 511.66 L144.13 512.02 L145.01 512.59 L145.89 513.42 L146.78 514.52 L147.66 515.89 L148.54 517.53 L149.42 519.38 L150.31 521.41 L151.19 523.56 L152.07 525.76 L152.95 527.97 L153.84 530.13 L154.72 532.20 L155.60 534.16 L156.48 536.00 L157.37 537.69 L158.25 539.25 L159.13 540.66 L160.01 541.95 L160.90 543.11 L161.78 544.15 L162.66 545.09 L163.54 545.93 L164.43 546.69 L165.31 547.37 L166.19 547.98 L167.07 548.53 L167.96 549.03 L168.84 549.47 L169.72 549.88 L170.60 550.24 L171.49 550.57 L172.37 550.87 L173.25 551.14 L174.13 551.39 L175.02 551.61 L175.90 551.81 L175.90 554.60 Z" fill="#c88f00" fill-opacity="0.215"/>
<path d="M106.20 554.60 L106.20 552.63 L106.70 552.46 L107.19 552.26 L107.69 552.03 L108.19 551.79 L108.69 551.51 L109.19 551.19 L109.68 550.84 L110.18 550.44 L110.68 549.99 L111.17 549.49 L111.67 548.91 L112.17 548.26 L112.67 547.52 L113.16 546.68 L113.66 545.72 L114.16 544.64 L114.66 543.42 L115.16 542.05 L115.65 540.51 L116.15 538.80 L116.65 536.91 L117.14 534.86 L117.64 532.65 L118.14 530.32 L118.64 527.91 L119.13 525.48 L119.63 523.10 L120.13 520.84 L120.63 518.77 L121.12 516.94 L121.62 515.41 L122.12 514.17 L122.62 513.23 L123.11 512.55 L123.61 512.10 L124.11 511.82 L124.61 511.68 L125.10 511.62 L125.60 511.60 L126.10 511.60 L126.63 511.60 L127.17 511.62 L127.70 511.68 L128.24 511.82 L128.78 512.10 L129.31 512.55 L129.84 513.23 L130.38 514.17 L130.91 515.41 L131.45 516.94 L131.98 518.77 L132.52 520.84 L133.06 523.10 L133.59 525.48 L134.12 527.91 L134.66 530.32 L135.19 532.65 L135.73 534.86 L136.26 536.91 L136.80 538.80 L137.33 540.51 L137.87 542.05 L138.41 543.42 L138.94 544.64 L139.47 545.72 L140.01 546.68 L140.54 547.52 L141.08 548.26 L141.61 548.91 L142.15 549.49 L142.69 549.99 L143.22 550.44 L143.75 550.84 L144.29 551.19 L144.82 551.51 L145.36 551.79 L145.89 552.03 L146.43 552.26 L146.97 552.46 L147.50 552.63 L147.50 554.60 Z" fill="#c88f00" fill-opacity="0.5"/>
<path d="M105.60 554.60 L105.60 552.61 L105.94 552.43 L106.28 552.22 L106.62 552.00 L106.96 551.75 L107.30 551.46 L107.64 551.15 L107.98 550.79 L108.32 550.39 L108.66 549.93 L109.00 549.41 L109.34 548.83 L109.68 548.17 L110.02 547.42 L110.36 546.56 L110.70 545.60 L111.04 544.50 L111.38 543.27 L111.72 541.87 L112.06 540.31 L112.40 538.58 L112.74 536.66 L113.08 534.58 L113.42 532.34 L113.76 529.98 L114.10 527.54 L114.44 525.07 L114.78 522.66 L115.12 520.37 L115.46 518.27 L115.80 516.42 L116.14 514.86 L116.48 513.61 L116.82 512.65 L117.16 511.96 L117.50 511.50 L117.84 511.23 L118.18 511.08 L118.52 511.02 L118.86 511.00 L119.20 511.00 L119.56 511.00 L119.93 511.02 L120.30 511.08 L120.66 511.23 L121.03 511.50 L121.39 511.96 L121.76 512.65 L122.12 513.61 L122.48 514.86 L122.85 516.42 L123.22 518.27 L123.58 520.37 L123.95 522.66 L124.31 525.07 L124.67 527.54 L125.04 529.98 L125.41 532.34 L125.77 534.58 L126.14 536.66 L126.50 538.58 L126.87 540.31 L127.23 541.87 L127.59 543.27 L127.96 544.50 L128.32 545.60 L128.69 546.56 L129.06 547.42 L129.42 548.17 L129.78 548.83 L130.15 549.41 L130.52 549.93 L130.88 550.39 L131.25 550.79 L131.61 551.15 L131.97 551.46 L132.34 551.75 L132.71 552.00 L133.07 552.22 L133.44 552.43 L133.80 552.61 L133.80 554.60 Z" fill="#c88f00" fill-opacity="1.0"/>
<path d="M324.00 555.40 L324.00 553.42 L324.35 553.24 L324.69 553.03 L325.04 552.81 L325.39 552.56 L325.74 552.28 L326.08 551.96 L326.43 551.61 L326.78 551.21 L327.13 550.75 L327.47 550.24 L327.82 549.66 L328.17 549.00 L328.52 548.25 L328.86 547.40 L329.21 546.44 L329.56 545.35 L329.91 544.12 L330.25 542.73 L330.60 541.18 L330.95 539.45 L331.30 537.55 L331.64 535.47 L331.99 533.24 L332.34 530.89 L332.69 528.46 L333.03 526.01 L333.38 523.61 L333.73 521.32 L334.08 519.23 L334.42 517.39 L334.77 515.84 L335.12 514.59 L335.47 513.64 L335.81 512.96 L336.16 512.50 L336.51 512.23 L336.86 512.08 L337.20 512.02 L337.55 512.00 L337.90 512.00 L338.25 512.00 L338.61 512.02 L338.96 512.08 L339.32 512.23 L339.67 512.50 L340.03 512.96 L340.38 513.64 L340.74 514.59 L341.09 515.84 L341.45 517.39 L341.80 519.23 L342.16 521.32 L342.51 523.61 L342.87 526.01 L343.22 528.46 L343.58 530.89 L343.94 533.24 L344.29 535.47 L344.64 537.55 L345.00 539.45 L345.35 541.18 L345.71 542.73 L346.06 544.12 L346.42 545.35 L346.77 546.44 L347.13 547.40 L347.48 548.25 L347.84 549.00 L348.19 549.66 L348.55 550.24 L348.90 550.75 L349.26 551.21 L349.61 551.61 L349.97 551.96 L350.32 552.28 L350.68 552.56 L351.03 552.81 L351.39 553.03 L351.75 553.24 L352.10 553.42 L352.10 555.40 Z" fill="#45998f" fill-opacity="1.0"/>
<path d="M359.00 555.20 L359.00 553.21 L359.35 553.03 L359.69 552.82 L360.04 552.60 L360.38 552.35 L360.73 552.06 L361.07 551.75 L361.42 551.39 L361.76 550.99 L362.11 550.53 L362.45 550.01 L362.80 549.43 L363.14 548.77 L363.49 548.02 L363.83 547.16 L364.18 546.20 L364.52 545.10 L364.87 543.87 L365.21 542.47 L365.56 540.91 L365.90 539.18 L366.25 537.26 L366.59 535.18 L366.94 532.94 L367.28 530.58 L367.62 528.14 L367.97 525.67 L368.31 523.26 L368.66 520.97 L369.00 518.87 L369.35 517.02 L369.69 515.46 L370.04 514.21 L370.38 513.25 L370.73 512.56 L371.07 512.10 L371.42 511.83 L371.76 511.68 L372.11 511.62 L372.46 511.60 L372.80 511.60 L373.16 511.60 L373.51 511.62 L373.87 511.68 L374.22 511.83 L374.57 512.10 L374.93 512.56 L375.29 513.25 L375.64 514.21 L376.00 515.46 L376.35 517.02 L376.70 518.87 L377.06 520.97 L377.42 523.26 L377.77 525.67 L378.12 528.14 L378.48 530.58 L378.84 532.94 L379.19 535.18 L379.55 537.26 L379.90 539.18 L380.25 540.91 L380.61 542.47 L380.97 543.87 L381.32 545.10 L381.68 546.20 L382.03 547.16 L382.38 548.02 L382.74 548.77 L383.10 549.43 L383.45 550.01 L383.81 550.53 L384.16 550.99 L384.51 551.39 L384.87 551.75 L385.23 552.06 L385.58 552.35 L385.94 552.60 L386.29 552.82 L386.64 553.03 L387.00 553.21 L387.00 555.20 Z" fill="#c88f00" fill-opacity="0.215"/>
<path d="M359.00 555.20 L359.00 553.91 L359.35 553.79 L359.69 553.66 L360.04 553.52 L360.38 553.35 L360.73 553.17 L361.07 552.97 L361.42 552.74 L361.76 552.47 L362.11 552.18 L362.45 551.85 L362.80 551.47 L363.14 551.04 L363.49 550.55 L363.83 550.00 L364.18 549.38 L364.52 548.67 L364.87 547.87 L365.21 546.97 L365.56 545.96 L365.90 544.84 L366.25 543.60 L366.59 542.25 L366.94 540.80 L367.28 539.27 L367.62 537.70 L367.97 536.10 L368.31 534.54 L368.66 533.06 L369.00 531.70 L369.35 530.51 L369.69 529.50 L370.04 528.69 L370.38 528.07 L370.73 527.62 L371.07 527.33 L371.42 527.15 L371.76 527.05 L372.11 527.01 L372.46 527.00 L372.80 527.00 L373.16 527.00 L373.51 527.01 L373.87 527.05 L374.22 527.15 L374.57 527.33 L374.93 527.62 L375.29 528.07 L375.64 528.69 L376.00 529.50 L376.35 530.51 L376.70 531.70 L377.06 533.06 L377.42 534.54 L377.77 536.10 L378.12 537.70 L378.48 539.27 L378.84 540.80 L379.19 542.25 L379.55 543.60 L379.90 544.84 L380.25 545.96 L380.61 546.97 L380.97 547.87 L381.32 548.67 L381.68 549.38 L382.03 550.00 L382.38 550.55 L382.74 551.04 L383.10 551.47 L383.45 551.85 L383.81 552.18 L384.16 552.47 L384.51 552.74 L384.87 552.97 L385.23 553.17 L385.58 553.35 L385.94 553.52 L386.29 553.66 L386.64 553.79 L387.00 553.91 L387.00 555.20 Z" fill="#c88f00" fill-opacity="0.5"/>
<path d="M359.00 555.20 L359.00 554.50 L359.35 554.44 L359.69 554.37 L360.04 554.29 L360.38 554.21 L360.73 554.11 L361.07 554.00 L361.42 553.87 L361.76 553.73 L362.11 553.57 L362.45 553.39 L362.80 553.19 L363.14 552.96 L363.49 552.70 L363.83 552.40 L364.18 552.06 L364.52 551.68 L364.87 551.25 L365.21 550.76 L365.56 550.22 L365.90 549.61 L366.25 548.95 L366.59 548.22 L366.94 547.44 L367.28 546.62 L367.62 545.76 L367.97 544.91 L368.31 544.06 L368.66 543.27 L369.00 542.53 L369.35 541.89 L369.69 541.35 L370.04 540.91 L370.38 540.57 L370.73 540.34 L371.07 540.18 L371.42 540.08 L371.76 540.03 L372.11 540.01 L372.46 540.00 L372.80 540.00 L373.16 540.00 L373.51 540.01 L373.87 540.03 L374.22 540.08 L374.57 540.18 L374.93 540.34 L375.29 540.57 L375.64 540.91 L376.00 541.35 L376.35 541.89 L376.70 542.53 L377.06 543.27 L377.42 544.06 L377.77 544.91 L378.12 545.76 L378.48 546.62 L378.84 547.44 L379.19 548.22 L379.55 548.95 L379.90 549.61 L380.25 550.22 L380.61 550.76 L380.97 551.25 L381.32 551.68 L381.68 552.06 L382.03 552.40 L382.38 552.70 L382.74 552.96 L383.10 553.19 L383.45 553.39 L383.81 553.57 L384.16 553.73 L384.51 553.87 L384.87 554.00 L385.23 554.11 L385.58 554.21 L385.94 554.29 L386.29 554.37 L386.64 554.44 L387.00 554.50 L387.00 555.20 Z" fill="#c88f00" fill-opacity="1.0"/>
<path d="M537.40 555.40 L537.40 553.40 L537.75 553.22 L538.09 553.01 L538.44 552.79 L538.79 552.53 L539.14 552.25 L539.48 551.93 L539.83 551.57 L540.18 551.17 L540.53 550.71 L540.88 550.19 L541.22 549.60 L541.57 548.94 L541.92 548.18 L542.26 547.33 L542.61 546.36 L542.96 545.26 L543.31 544.01 L543.65 542.61 L544.00 541.05 L544.35 539.30 L544.70 537.38 L545.04 535.29 L545.39 533.04 L545.74 530.67 L546.09 528.21 L546.43 525.74 L546.78 523.31 L547.13 521.01 L547.48 518.90 L547.82 517.04 L548.17 515.48 L548.52 514.22 L548.87 513.26 L549.21 512.57 L549.56 512.11 L549.91 511.83 L550.26 511.68 L550.60 511.62 L550.95 511.60 L551.30 511.60 L551.66 511.60 L552.02 511.62 L552.38 511.68 L552.74 511.83 L553.10 512.11 L553.46 512.57 L553.82 513.26 L554.18 514.22 L554.54 515.48 L554.90 517.04 L555.26 518.90 L555.62 521.01 L555.98 523.31 L556.34 525.74 L556.70 528.21 L557.06 530.67 L557.42 533.04 L557.78 535.29 L558.14 537.38 L558.50 539.30 L558.86 541.05 L559.22 542.61 L559.58 544.01 L559.94 545.26 L560.30 546.36 L560.66 547.33 L561.02 548.18 L561.38 548.94 L561.74 549.60 L562.10 550.19 L562.46 550.71 L562.82 551.17 L563.18 551.57 L563.54 551.93 L563.90 552.25 L564.26 552.53 L564.62 552.79 L564.98 553.01 L565.34 553.22 L565.70 553.40 L565.70 555.40 Z" fill="#45998f" fill-opacity="1.0"/>
<path d="M568.20 555.40 L568.20 553.40 L568.55 553.22 L568.89 553.01 L569.24 552.79 L569.59 552.53 L569.94 552.25 L570.28 551.93 L570.63 551.57 L570.98 551.17 L571.33 550.71 L571.67 550.19 L572.02 549.60 L572.37 548.94 L572.72 548.18 L573.06 547.33 L573.41 546.36 L573.76 545.26 L574.11 544.01 L574.45 542.61 L574.80 541.05 L575.15 539.30 L575.50 537.38 L575.84 535.29 L576.19 533.04 L576.54 530.67 L576.89 528.21 L577.23 525.74 L577.58 523.31 L577.93 521.01 L578.28 518.90 L578.62 517.04 L578.97 515.48 L579.32 514.22 L579.67 513.26 L580.01 512.57 L580.36 512.11 L580.71 511.83 L581.06 511.68 L581.40 511.62 L581.75 511.60 L582.10 511.60 L582.46 511.60 L582.82 511.62 L583.18 511.68 L583.54 511.83 L583.90 512.11 L584.26 512.57 L584.62 513.26 L584.98 514.22 L585.34 515.48 L585.70 517.04 L586.06 518.90 L586.42 521.01 L586.78 523.31 L587.14 525.74 L587.50 528.21 L587.86 530.67 L588.22 533.04 L588.58 535.29 L588.94 537.38 L589.30 539.30 L589.66 541.05 L590.02 542.61 L590.38 544.01 L590.74 545.26 L591.10 546.36 L591.46 547.33 L591.82 548.18 L592.18 548.94 L592.54 549.60 L592.90 550.19 L593.26 550.71 L593.62 551.17 L593.98 551.57 L594.34 551.93 L594.70 552.25 L595.06 552.53 L595.42 552.79 L595.78 553.01 L596.14 553.22 L596.50 553.40 L596.50 555.40 Z" fill="#c88f00" fill-opacity="1.0"/>
<path d="M599.00 555.40 L599.00 553.40 L599.35 553.22 L599.69 553.01 L600.04 552.79 L600.39 552.53 L600.74 552.25 L601.08 551.93 L601.43 551.57 L601.78 551.17 L602.13 550.71 L602.48 550.19 L602.82 549.60 L603.17 548.94 L603.52 548.18 L603.87 547.33 L604.21 546.36 L604.56 545.26 L604.91 544.01 L605.25 542.61 L605.60 541.05 L605.95 539.30 L606.30 537.38 L606.64 535.29 L606.99 533.04 L607.34 530.67 L607.69 528.21 L608.03 525.74 L608.38 523.31 L608.73 521.01 L609.08 518.90 L609.42 517.04 L609.77 515.48 L610.12 514.22 L610.47 513.26 L610.81 512.57 L611.16 512.11 L611.51 511.83 L611.86 511.68 L612.20 511.62 L612.55 511.60 L612.90 511.60 L613.26 511.60 L613.62 511.62 L613.98 511.68 L614.34 511.83 L614.70 512.11 L615.06 512.57 L615.42 513.26 L615.78 514.22 L616.14 515.48 L616.50 517.04 L616.86 518.90 L617.22 521.01 L617.58 523.31 L617.94 525.74 L618.30 528.21 L618.66 530.67 L619.02 533.04 L619.38 535.29 L619.74 537.38 L620.10 539.30 L620.46 541.05 L620.82 542.61 L621.18 544.01 L621.54 545.26 L621.90 546.36 L622.26 547.33 L622.62 548.18 L622.98 548.94 L623.34 549.60 L623.70 550.19 L624.06 550.71 L624.42 551.17 L624.78 551.57 L625.14 551.93 L625.50 552.25 L625.86 552.53 L626.22 552.79 L626.58 553.01 L626.94 553.22 L627.30 553.40 L627.30 555.40 Z" fill="#e4c780" fill-opacity="1.0"/>
<path d="M629.80 555.40 L629.80 553.40 L630.15 553.22 L630.49 553.01 L630.84 552.79 L631.19 552.53 L631.54 552.25 L631.88 551.93 L632.23 551.57 L632.58 551.17 L632.93 550.71 L633.27 550.19 L633.62 549.60 L633.97 548.94 L634.32 548.18 L634.66 547.33 L635.01 546.36 L635.36 545.26 L635.71 544.01 L636.05 542.61 L636.40 541.05 L636.75 539.30 L637.10 537.38 L637.44 535.29 L637.79 533.04 L638.14 530.67 L638.49 528.21 L638.83 525.74 L639.18 523.31 L639.53 521.01 L639.88 518.90 L640.22 517.04 L640.57 515.48 L640.92 514.22 L641.27 513.26 L641.61 512.57 L641.96 512.11 L642.31 511.83 L642.66 511.68 L643.00 511.62 L643.35 511.60 L643.70 511.60 L644.06 511.60 L644.42 511.62 L644.78 511.68 L645.14 511.83 L645.50 512.11 L645.86 512.57 L646.22 513.26 L646.58 514.22 L646.94 515.48 L647.30 517.04 L647.66 518.90 L648.02 521.01 L648.38 523.31 L648.74 525.74 L649.10 528.21 L649.46 530.67 L649.82 533.04 L650.18 535.29 L650.54 537.38 L650.90 539.30 L651.26 541.05 L651.62 542.61 L651.98 544.01 L652.34 545.26 L652.70 546.36 L653.06 547.33 L653.42 548.18 L653.78 548.94 L654.14 549.60 L654.50 550.19 L654.86 550.71 L655.22 551.17 L655.58 551.57 L655.94 551.93 L656.30 552.25 L656.66 552.53 L657.02 552.79 L657.38 553.01 L657.74 553.22 L658.10 553.40 L658.10 555.40 Z" fill="#f3e7c9" fill-opacity="1.0"/>
<path d="M35.8 557.2 L684 560.0" stroke="#a0a0a0" stroke-width="1.5" stroke-dasharray="3 2.85" stroke-dashoffset="1.55" fill="none"/>
</svg></body></html>
